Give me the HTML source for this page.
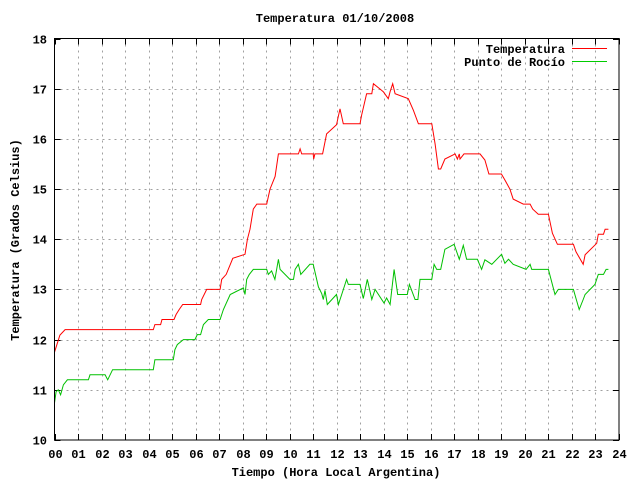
<!DOCTYPE html>
<html><head><meta charset="utf-8"><style>
body{margin:0;background:#fff}
svg{display:block;font-family:"Liberation Mono",monospace;font-size:12px;font-weight:bold}
</style></head><body>
<svg id="chart" width="640" height="480" viewBox="0 0 640 480" xmlns="http://www.w3.org/2000/svg">
<text x="335" y="22" text-anchor="middle">Temperatura 01/10/2008</text>
<text x="336" y="476" text-anchor="middle">Tiempo (Hora Local Argentina)</text>
<text transform="translate(19,240) rotate(-90)" text-anchor="middle">Temperatura (Grados Celsius)</text>
<g id="grid"></g><g id="ticks"></g><g id="series"></g>
<rect x="54.5" y="38.5" width="564.5" height="401.5" fill="none" stroke="#000" stroke-width="1"/>
<g>
<text x="565" y="53" text-anchor="end">Temperatura</text>
<line x1="572" y1="48.5" x2="607" y2="48.5" stroke="#f00"/>
<text x="565" y="66" text-anchor="end">Punto de Rocío</text>
<line x1="572" y1="61.5" x2="607" y2="61.5" stroke="#0c0"/>
</g>
</svg>
<script>
const xTicks=["00","01","02","03","04","05","06","07","08","09","10","11","12","13","14","15","16","17","18","19","20","21","22","23","24"];
const yTicks=[10,11,12,13,14,15,16,17,18];
const tempHours=[0,0.23,0.45,4.2,4.27,4.51,4.57,5.08,5.17,5.3,5.45,6.21,6.26,6.47,7.04,7.11,7.3,7.58,8.1,8.2,8.31,8.45,8.6,9.02,9.16,9.38,9.52,10.37,10.44,10.51,11.0,11.02,11.07,11.4,11.57,11.99,12.14,12.28,12.99,13.06,13.27,13.49,13.56,13.98,14.19,14.27,14.38,14.48,15.04,15.26,15.47,16.04,16.18,16.32,16.42,16.6,17.03,17.13,17.21,17.24,17.41,18.09,18.3,18.47,19.0,19.15,19.36,19.5,19.93,20.22,20.33,20.57,21.0,21.17,21.38,22.06,22.17,22.48,22.56,23.05,23.12,23.34,23.41,23.55];
const tempValues=[11.75,12.09,12.2,12.2,12.3,12.3,12.4,12.4,12.5,12.6,12.7,12.7,12.8,13.0,13.0,13.2,13.3,13.62,13.7,14.0,14.2,14.6,14.7,14.7,15.0,15.25,15.7,15.7,15.8,15.7,15.7,15.6,15.7,15.7,16.1,16.28,16.6,16.3,16.3,16.48,16.9,16.9,17.1,16.94,16.8,16.94,17.1,16.9,16.8,16.57,16.3,16.3,15.9,15.4,15.4,15.6,15.7,15.6,15.7,15.6,15.7,15.7,15.58,15.3,15.3,15.18,15.0,14.8,14.7,14.7,14.6,14.5,14.5,14.12,13.9,13.9,13.75,13.5,13.69,13.92,14.1,14.1,14.2,14.2];
const dewHours=[0,0.07,0.16,0.26,0.38,0.55,1.44,1.51,2.15,2.26,2.47,4.2,4.27,5.05,5.12,5.22,5.48,5.97,6.07,6.21,6.33,6.54,7.04,7.18,7.47,8.03,8.1,8.17,8.28,8.45,9.02,9.09,9.23,9.37,9.52,9.59,10.01,10.16,10.23,10.37,10.47,10.86,11.0,11.22,11.36,11.43,11.5,11.6,11.99,12.07,12.21,12.42,12.49,12.99,13.13,13.3,13.49,13.63,14.01,14.12,14.27,14.44,14.59,15.0,15.09,15.33,15.45,15.54,16.04,16.14,16.25,16.42,16.6,16.99,17.21,17.38,17.52,17.98,18.16,18.3,18.59,19.01,19.15,19.3,19.5,20.05,20.22,20.29,21.0,21.28,21.42,22.06,22.17,22.31,22.48,22.56,22.98,23.12,23.34,23.45,23.55];
const dewValues=[10.74,10.96,11.0,10.9,11.1,11.2,11.2,11.3,11.3,11.2,11.4,11.4,11.6,11.6,11.8,11.9,12.0,12.0,12.1,12.1,12.3,12.4,12.4,12.6,12.9,13.03,12.9,13.2,13.3,13.4,13.4,13.3,13.37,13.2,13.6,13.4,13.2,13.2,13.4,13.5,13.3,13.5,13.5,13.05,12.92,12.8,12.98,12.7,12.9,12.7,12.9,13.2,13.1,13.1,12.82,13.2,12.8,13.0,12.73,12.83,12.7,13.4,12.9,12.9,13.1,12.8,12.8,13.2,13.2,13.5,13.4,13.4,13.8,13.9,13.6,13.88,13.6,13.6,13.4,13.59,13.5,13.7,13.52,13.6,13.5,13.4,13.5,13.4,13.4,12.9,13.0,13.0,12.82,12.6,12.8,12.9,13.1,13.3,13.3,13.4,13.4];
const X0=54.5,X1=619,Y0=440,Y1=38.5;
const sx=h=>X0+(X1-X0)*h/24;
const sy=v=>Y0-(Y0-Y1)*(v-10)/8;
const NS="http://www.w3.org/2000/svg";
function mk(tag,parent,attrs){const e=document.createElementNS(NS,tag);for(const k in attrs)e.setAttribute(k,attrs[k]);parent.appendChild(e);return e;}
const grid=document.getElementById('grid'),ticks=document.getElementById('ticks'),series=document.getElementById('series');
xTicks.forEach((t,i)=>{const x=Math.round(sx(i))+0.5;
 if(i>0&&i<24){const g=mk('line',grid,{x1:x,y1:Y1,x2:x,y2:Y0,stroke:'#a0a0a0','stroke-dasharray':'2,4'});
 
 }
 const tk=mk('path',ticks,{d:`M${x} ${Y0}v-6M${x} ${Y1}v6`,stroke:'#000'});
 
 
 const l=mk('text',ticks,{x:x,y:458,'text-anchor':'middle'});l.textContent=t;
 
 });
yTicks.forEach(v=>{const y=Math.round(sy(v))+0.5;
 if(v>10&&v<18){const g=mk('line',grid,{x1:X0,y1:y,x2:X1,y2:y,stroke:'#a0a0a0','stroke-dasharray':'2,4'});
 
 }
 const tk=mk('path',ticks,{d:`M${X0} ${y}h6M${X1} ${y}h-6`,stroke:'#000'});
 
 
 const l=mk('text',ticks,{x:47,y:y+4,'text-anchor':'end'});l.textContent=v;
 
 });
function line(hs,vs,color,name){const d=hs.map((h,i)=>(i?'L':'M')+sx(h).toFixed(1)+' '+sy(vs[i]).toFixed(1)).join('');
 const p=mk('path',series,{d:d,fill:'none',stroke:color,'stroke-width':1});
 
 }
line(dewHours,dewValues,'#00c000','dew-point-line');
line(tempHours,tempValues,'#ff0000','temperature-line');
</script>
</body></html>
